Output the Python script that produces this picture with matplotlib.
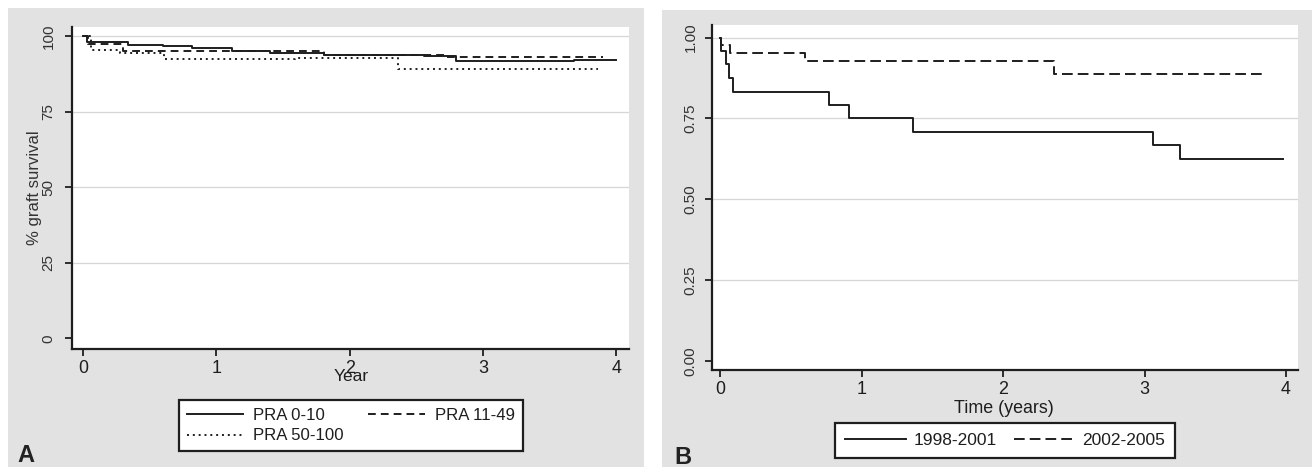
import matplotlib
matplotlib.use("Agg")
import matplotlib.pyplot as plt
from matplotlib.patches import Rectangle
from matplotlib import font_manager

# ---------------- data ----------------
# Panel A: % graft survival by PRA group (Kaplan-Meier steps)
a_xticks = [0, 1, 2, 3, 4]
a_yticks = [0, 25, 50, 75, 100]
a_labels = ["PRA 0-10", "PRA 11-49", "PRA 50-100"]

a_t_pra0_10 = [0, 0.03, 0.34, 0.60, 0.82, 1.12, 1.40, 1.81, 2.56, 2.80, 3.68, 4.00]
a_s_pra0_10 = [100, 98.0, 97.2, 96.6, 95.9, 95.2, 94.5, 93.8, 93.3, 91.7, 92.0, 92.0]

a_t_pra11_49 = [0, 0.04, 0.30, 1.81, 2.72, 3.90]
a_s_pra11_49 = [100, 97.4, 95.0, 93.7, 93.2, 93.2]

a_t_pra50_100 = [0, 0.06, 0.28, 0.61, 1.59, 2.36, 3.86]
a_s_pra50_100 = [100, 95.4, 94.5, 92.3, 92.9, 89.0, 89.0]

# Panel B: survival by era
b_xticks = [0, 1, 2, 3, 4]
b_yticks = [0.00, 0.25, 0.50, 0.75, 1.00]
b_ytick_labels = ["0.00", "0.25", "0.50", "0.75", "1.00"]
b_labels = ["1998-2001", "2002-2005"]

b_t_9801 = [0, 0.005, 0.042, 0.06, 0.09, 0.77, 0.91, 1.36, 3.06, 3.25, 3.98]
b_s_9801 = [1.0, 0.958, 0.917, 0.875, 0.833, 0.792, 0.750, 0.708, 0.667, 0.625, 0.625]

b_t_0205 = [0, 0.007, 0.07, 0.60, 2.36, 3.86]
b_s_0205 = [1.0, 0.976, 0.953, 0.929, 0.886, 0.886]

# ---------------- style ----------------
avail = {f.name for f in font_manager.fontManager.ttflist}
HAS_NARROW = "Liberation Sans Narrow" in avail
NARROW = ["Liberation Sans Narrow", "DejaVu Sans"] if HAS_NARROW else ["Liberation Sans", "DejaVu Sans"]
NS = 1.0 if HAS_NARROW else 0.86   # size factor to keep text widths similar
REG = ["Liberation Sans", "DejaVu Sans"]
INK = "#1e1e1e"
GRID = "#d6d6d6"
PANEL_BG = "#e2e2e2"

W, H = 1316, 467
fig = plt.figure(figsize=(W / 100, H / 100), dpi=100, facecolor="white")

def fx(px):
    return px / W

def fy(py):
    return 1 - py / H

# grey panel backgrounds (behind everything)
fig.patches.append(Rectangle((fx(8), fy(467)), fx(644 - 8), (467 - 8) / H,
                             transform=fig.transFigure, facecolor=PANEL_BG, edgecolor="none", zorder=-10))
fig.patches.append(Rectangle((fx(662), fy(467)), fx(1312 - 662), (467 - 10) / H,
                             transform=fig.transFigure, facecolor=PANEL_BG, edgecolor="none", zorder=-10))


def style_axes(ax, xticks, yticks, ytl, ylpad, xtick_fs, ytick_fs):
    ax.set_zorder(2)
    ax.set_facecolor("white")
    for s in ("top", "right"):
        ax.spines[s].set_visible(False)
    for s in ("left", "bottom"):
        ax.spines[s].set_color(INK)
        ax.spines[s].set_linewidth(1.6)
    ax.set_xticks(xticks)
    ax.set_xticklabels([str(v) for v in xticks], fontfamily=NARROW, fontsize=xtick_fs, color=INK)
    ax.set_yticks(yticks)
    ax.set_yticklabels(ytl, fontfamily=REG, fontsize=ytick_fs, color="#333333",
                       rotation=90, va="center")
    ax.tick_params(axis="x", direction="out", length=5, width=1.3, color=INK, pad=3)
    ax.tick_params(axis="y", direction="out", length=5, width=1.3, color=INK, pad=ylpad)
    for v in yticks:
        if v != 0:
            ax.axhline(v, color=GRID, lw=0.9, zorder=1)


# ---------------- Panel A ----------------
axA = fig.add_axes([fx(71.5), fy(349.3), fx(629 - 71.5), (349.3 - 27) / H])
axA.set_xlim(-0.085, 4.094)
axA.set_ylim(-3.6, 103.0)
style_axes(axA, a_xticks, a_yticks, [str(v) for v in a_yticks], 6.5, 15 * NS, 11)

lw = 1.4
lA1, = axA.step(a_t_pra0_10, a_s_pra0_10, where="post", color=INK, lw=lw, zorder=3)
lA2, = axA.step(a_t_pra11_49, a_s_pra11_49, where="post", color=INK, lw=lw, zorder=3,
                linestyle=(0, (4.0, 2.6)))
lA3, = axA.step(a_t_pra50_100, a_s_pra50_100, where="post", color=INK, lw=lw, zorder=3,
                linestyle=(0, (1.0, 2.0)))

ylab = axA.set_ylabel("% graft survival", fontfamily=REG, fontsize=12, color="#333333")
axA.yaxis.set_label_coords(-0.066, 0.5)
ylab.set_verticalalignment("center")
xlab = axA.set_xlabel("Year", fontfamily=NARROW, fontsize=14.5 * NS, color=INK)
axA.xaxis.set_label_coords(0.502, -0.06)
xlab.set_verticalalignment("top")

legA = fig.legend([lA1, lA3, lA2], [a_labels[0], a_labels[2], a_labels[1]],
                  ncol=2, loc="upper left", bbox_to_anchor=(fx(179), fy(400)),
                  bbox_transform=fig.transFigure, borderaxespad=0,
                  prop={"family": NARROW, "size": 14 * NS}, handlelength=3.4,
                  handletextpad=0.6, columnspacing=1.45, borderpad=0.45,
                  labelspacing=0.35, fancybox=False, framealpha=1)
legA.get_frame().set_edgecolor(INK)
legA.get_frame().set_linewidth(1.6)
legA.set_zorder(5)
for t in legA.get_texts():
    t.set_color(INK)

fig.text(fx(17), fy(462), "A", fontfamily=REG, fontsize=17, fontweight="bold",
         color="#222222", va="baseline", ha="left")

# ---------------- Panel B ----------------
axB = fig.add_axes([fx(712), fy(370), fx(1297.8 - 712), (370 - 25) / H])
axB.set_xlim(-0.057, 4.083)
axB.set_ylim(-0.0278, 1.039)
style_axes(axB, b_xticks, b_yticks, b_ytick_labels, 5.5, 15 * NS, 11)

lB1, = axB.step(b_t_9801, b_s_9801, where="post", color=INK, lw=lw, zorder=3)
lB2, = axB.step(b_t_0205, b_s_0205, where="post", color=INK, lw=lw, zorder=3,
                linestyle=(0, (5.5, 2.6)))

xlabB = axB.set_xlabel("Time (years)", fontfamily=NARROW, fontsize=15 * NS, color=INK)
axB.xaxis.set_label_coords(0.498, -0.086)
xlabB.set_verticalalignment("top")

legB = fig.legend([lB1, lB2], b_labels, ncol=2, loc="upper left",
                  bbox_to_anchor=(fx(835), fy(423)), bbox_transform=fig.transFigure,
                  borderaxespad=0, prop={"family": NARROW, "size": 14.5 * NS},
                  handlelength=3.5, handletextpad=0.45, columnspacing=1.0,
                  borderpad=0.58, fancybox=False, framealpha=1)
legB.get_frame().set_edgecolor(INK)
legB.get_frame().set_linewidth(1.6)
legB.set_zorder(5)
for t in legB.get_texts():
    t.set_color(INK)

fig.text(fx(674), fy(464), "B", fontfamily=REG, fontsize=17, fontweight="bold",
         color="#222222", va="baseline", ha="left")

fig.savefig("out.png", dpi=100, facecolor=fig.get_facecolor())
